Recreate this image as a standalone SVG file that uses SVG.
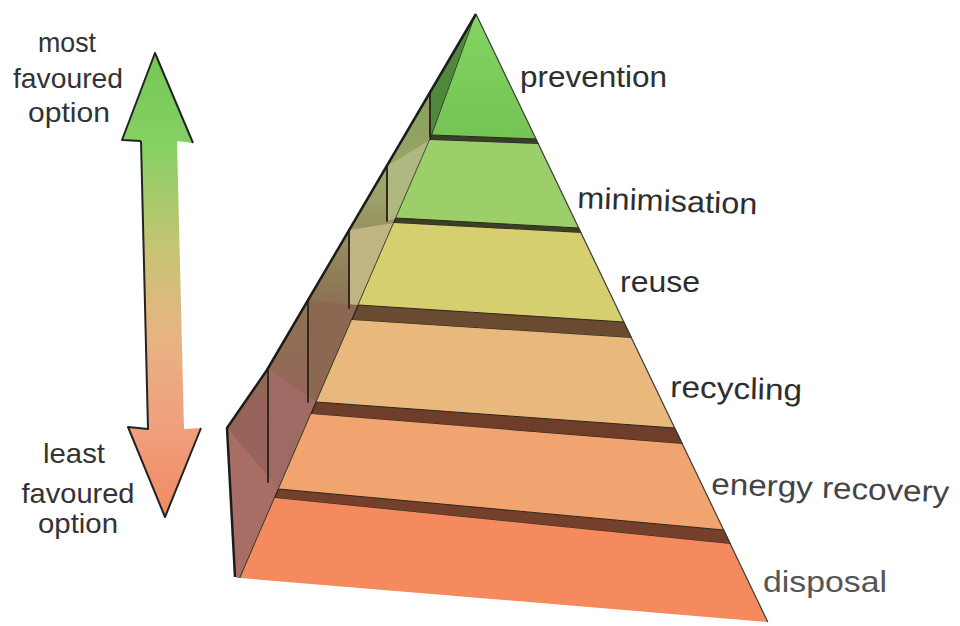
<svg xmlns="http://www.w3.org/2000/svg" width="960" height="626" viewBox="0 0 960 626">
  <defs>
    <linearGradient id="sideBase" x1="0" y1="14" x2="0" y2="578" gradientUnits="userSpaceOnUse">
      <stop offset="0" stop-color="#6f9a4a"/>
      <stop offset="0.3" stop-color="#9ea76c"/>
      <stop offset="0.5" stop-color="#8c7454"/>
      <stop offset="0.72" stop-color="#96625a"/>
      <stop offset="1" stop-color="#a0665e"/>
    </linearGradient>
    <linearGradient id="arrowGrad" x1="0" y1="53" x2="0" y2="517" gradientUnits="userSpaceOnUse">
      <stop offset="0" stop-color="#74c856"/>
      <stop offset="0.2" stop-color="#86d064"/>
      <stop offset="0.42" stop-color="#c6c472"/>
      <stop offset="0.6" stop-color="#e6b482"/>
      <stop offset="0.8" stop-color="#f0a07e"/>
      <stop offset="1" stop-color="#f08a62"/>
    </linearGradient>
    <linearGradient id="gPrev" x1="0" y1="14" x2="0" y2="139" gradientUnits="userSpaceOnUse">
      <stop offset="0" stop-color="#84d462"/>
      <stop offset="1" stop-color="#74c456"/>
    </linearGradient>
  </defs>
  <style>
    .lbl { font-family: "Liberation Sans", Arial, sans-serif; font-size: 30px; fill: #2e2e2e; }
    .side { font-family: "Liberation Sans", Arial, sans-serif; font-size: 28px; fill: #333333; text-anchor: middle; }
    .band { stroke: #2e2418; stroke-width: 1; }
    .edge { fill: none; stroke: #35281c; stroke-width: 2; stroke-linecap: round; }
  </style>
  <rect width="960" height="626" fill="#ffffff"/>

  <!-- left side faces of the pyramid -->
  <g id="pyramid-side">
    <polygon points="476,14 267,370 227,428 235,577 240,578 432,135" fill="url(#sideBase)"/>
    <polygon points="476,14 432,135 430,137 430,92" fill="#4f8a3c"/>
    <polygon points="430,140 396,218 387,221 387,166" fill="#b0b881"/>
    <polygon points="394,223 358,305 349,308 349,230" fill="#c0b483"/>
    <polygon points="358,305 316,402 308,402 308,300" fill="#8c6852"/>
    <polygon points="316,402 279,489 268,482 268,368" fill="#a06a64"/>
    <polygon points="279,489 240,578 235,577 227,428" fill="#a86e66"/>
    <path class="edge" d="M430,92 L430,137 M387,166 L387,221 M349,230 L349,308 M308,300 L308,402 M268,368 L268,482"/>
    <path d="M476,14 L432,135 L240,578" fill="none" stroke="#2f3a22" stroke-width="1.6"/>
  </g>

  <!-- tiers (front faces) -->
  <g id="tier-prevention">
    <polygon points="476,14 536,139 432,135" fill="url(#gPrev)"/>
  </g>
  <polygon class="band" points="432,135 536,139 538.4,144 429.8,140" fill="#34402a"/>
  <g id="tier-minimisation">
    <polygon points="429.8,140 538.4,144 578.7,228 396.1,218" fill="#9ccf6a"/>
  </g>
  <polygon class="band" points="396.1,218 578.7,228 581.1,233 393.9,223" fill="#3a3f26"/>
  <g id="tier-reuse">
    <polygon points="393.9,223 581.1,233 623.8,322 358.4,305" fill="#d6cf70"/>
  </g>
  <polygon class="band" points="358.4,305 623.8,322 631.5,338 351.9,320" fill="#6a4a30"/>
  <g id="tier-recycling">
    <polygon points="351.9,320 631.5,338 674.7,428 316.4,402" fill="#e9b87c"/>
  </g>
  <polygon class="band" points="316.4,402 674.7,428 682.4,444 311.2,414" fill="#6e3e2a"/>
  <g id="tier-energy-recovery">
    <polygon points="311.2,414 682.4,444 723.7,530 278.7,489" fill="#f2a470"/>
  </g>
  <polygon class="band" points="278.7,489 723.7,530 730.4,544 274.8,498" fill="#74402c"/>
  <g id="tier-disposal">
    <polygon points="274.8,498 730.4,544 767.8,622 240.2,578" fill="#f58a5e"/>
  </g>

  <!-- outlines -->
  <path d="M476,14 L267,370 L227,428 L235,577" fill="none" stroke="#1c1c1c" stroke-width="2.5" stroke-linejoin="round"/>
  <path d="M476,14 L767.8,622" fill="none" stroke="#3a3a3a" stroke-width="1.2"/>

  <!-- tier labels -->
  <g id="labels">
    <text class="lbl" x="520" y="87" textLength="147" lengthAdjust="spacingAndGlyphs">prevention</text>
    <text class="lbl" x="577" y="208" textLength="180" lengthAdjust="spacingAndGlyphs" transform="rotate(2 577 208)">minimisation</text>
    <text class="lbl" x="620" y="292" textLength="80" lengthAdjust="spacingAndGlyphs">reuse</text>
    <text class="lbl" x="670" y="397" textLength="132" lengthAdjust="spacingAndGlyphs" transform="rotate(1.5 670 397)">recycling</text>
    <text class="lbl" x="711" y="494" textLength="238" lengthAdjust="spacingAndGlyphs" fill="#444444" style="fill:#444444" transform="rotate(2 711 494)">energy recovery</text>
    <text class="lbl" x="763" y="592" textLength="124" lengthAdjust="spacingAndGlyphs" style="fill:#555555">disposal</text>
  </g>

  <!-- preference arrow -->
  <g id="preference-arrow">
    <polygon points="155,53 193,143 177,141 184,429 201,428 165,517 128,427 148,429 141,141 122,140" fill="url(#arrowGrad)"/>
    <path d="M141,141 L122,140 L155,53 L193,143 M141,141 L148,429 L128,427 L165,517 L201,428" fill="none" stroke="#232323" stroke-width="2" stroke-linejoin="round"/>
    <text class="side" x="67" y="52" textLength="58" lengthAdjust="spacingAndGlyphs">most</text>
    <text class="side" x="68" y="88" textLength="110" lengthAdjust="spacingAndGlyphs">favoured</text>
    <text class="side" x="69" y="122" textLength="82" lengthAdjust="spacingAndGlyphs">option</text>
    <text class="side" x="74" y="463" textLength="62" lengthAdjust="spacingAndGlyphs">least</text>
    <text class="side" x="78" y="503" textLength="113" lengthAdjust="spacingAndGlyphs">favoured</text>
    <text class="side" x="78" y="533" textLength="80" lengthAdjust="spacingAndGlyphs">option</text>
  </g>
</svg>
